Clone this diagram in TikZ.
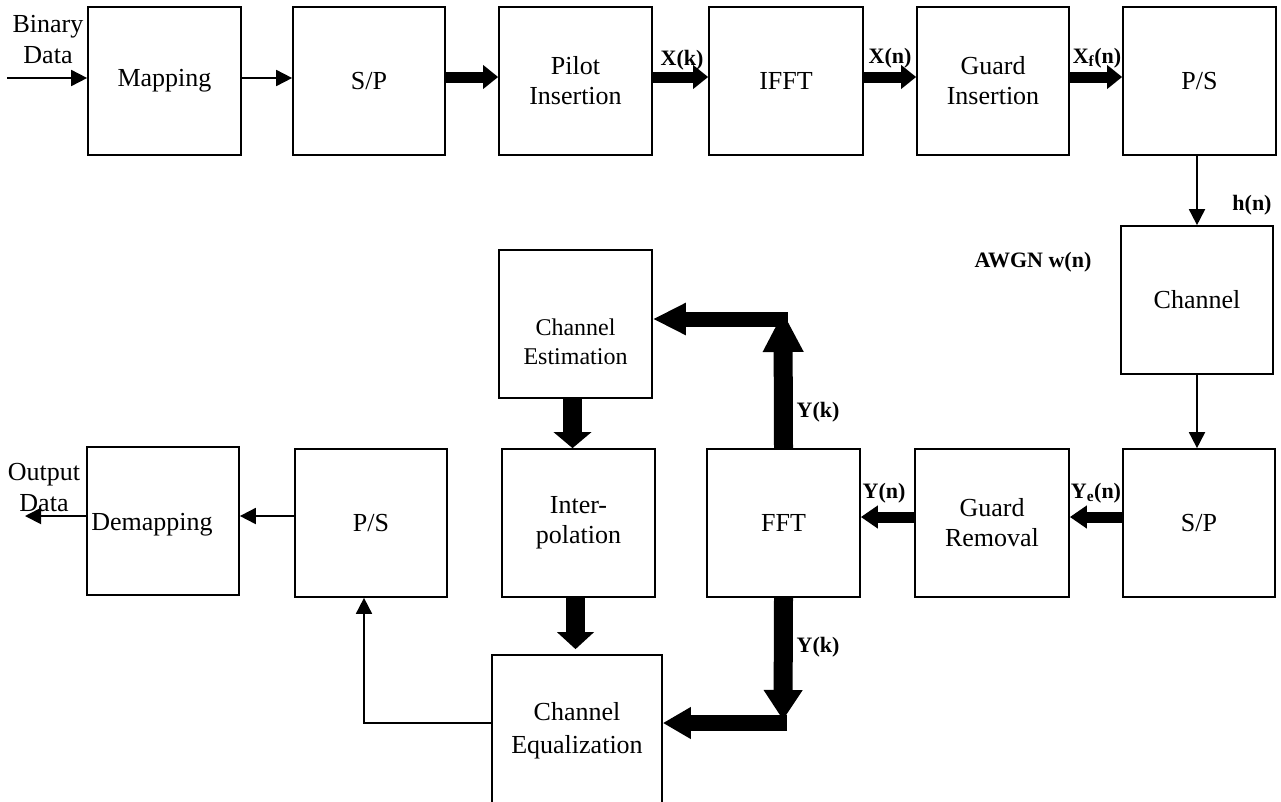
\documentclass[tikz,border=0pt]{standalone}
\usepackage{fontspec}
\setmainfont{Liberation Serif}
\usetikzlibrary{arrows.meta}
\tikzset{
  box/.style={draw, line width=1.7pt, inner sep=0pt, align=center, font=\fontsize{26}{30}\selectfont},
  lbl/.style={inner sep=0pt, font=\fontsize{22}{26}\selectfont\bfseries},
  txt/.style={inner sep=0pt, align=center, font=\fontsize{26}{31}\selectfont},
  thinarr/.style={draw, line width=1.8pt, -{Triangle[length=16pt,width=16pt]}},
  fatarr/.style={draw, line width=11pt, -{Triangle[length=15pt,width=23pt]}},
  fatarrb/.style={draw, line width=11pt, -{Triangle[length=17pt,width=22pt]}},
}
\begin{document}
\begin{tikzpicture}[x=1pt,y=-1pt]
\useasboundingbox (0,0) rectangle (1281,801);
\clip (0,0) rectangle (1281,801);
% top row
\node[box, minimum width=153pt, minimum height=148pt] (map) at (164.5,81) {Mapping};
\node[box, minimum width=152pt, minimum height=148pt] (sp1) at (369,81) {S/P};
\node[box, minimum width=153pt, minimum height=148pt] (pilot) at (575.5,81) {Pilot\\Insertion};
\node[box, minimum width=154pt, minimum height=148pt] (ifft) at (786,81) {IFFT};
\node[box, minimum width=152pt, minimum height=148pt] (gins) at (993,81) {Guard\\Insertion};
\node[box, minimum width=153pt, minimum height=148pt] (ps1) at (1199.5,81) {P/S};
% right column
\node[box, minimum width=152pt, minimum height=148pt] (chan) at (1197,300) {Channel};
\node[box, minimum width=152pt, minimum height=148pt] (sp2) at (1199,523) {S/P};
% bottom row
\node[box, minimum width=154pt, minimum height=148pt] (grem) at (992,523) {Guard\\Removal};
\node[box, minimum width=153pt, minimum height=148pt] (fft) at (783.5,523) {FFT};
\node[box, minimum width=153pt, minimum height=148pt] (interp) at (578.5,523) {Inter-\\polation};
\node[box, minimum width=153pt, minimum height=148pt] (chest) at (575.5,324) {};
\node[txt, font=\fontsize{24}{29}\selectfont] (chesttxt) at (575.5,342) {Channel\\Estimation};
\node[box, minimum width=152pt, minimum height=148pt] (ps2) at (371,523) {P/S};
\node[box, minimum width=152pt, minimum height=148pt] (demap) at (163,521) {};
\node[txt] (demaptxt) at (152,525) {Demapping};
\node[box, minimum width=170pt, minimum height=155pt] (eq) at (577,732.5) {};
\node[txt, font=\fontsize{26}{33}\selectfont] (eqtxt) at (577,731) {Channel\\Equalization};
% side texts
\node[txt] (bin) at (48,40) {Binary\\Data};
\node[txt] (out) at (44,488) {Output\\Data};
\coordinate (inA) at (7,78);
\coordinate (outA) at (25,516);
% labels
\node[lbl] (lxk) at (682,60) {X(k)};
\node[lbl] (lxn) at (890,58) {X(n)};
\node[lbl] (lxf) at (1097,58) {X\textsubscript{f}(n)};
\node[lbl] (lhn) at (1252,205) {h(n)};
\node[lbl] (lawgn) at (1033,262) {AWGN w(n)};
\node[lbl] (lyk1) at (818,412) {Y(k)};
\node[lbl] (lyk2) at (818,647) {Y(k)};
\node[lbl] (lyn) at (884,493) {Y(n)};
\node[lbl] (lye) at (1096,493) {Y\textsubscript{e}(n)};
% top row connectors
\draw[thinarr] (inA) -- (inA -| map.west);
\draw[thinarr] ([yshift=3pt]map.east) -- ([yshift=3pt]sp1.west);
\draw[fatarr] ([yshift=4pt]sp1.east) -- ([yshift=4pt]pilot.west);
\draw[fatarr] ([yshift=4pt]pilot.east) -- ([yshift=4pt]ifft.west);
\draw[fatarr] ([yshift=4pt]ifft.east) -- ([yshift=4pt]gins.west);
\draw[fatarr] ([yshift=4pt]gins.east) -- ([yshift=4pt]ps1.west);
% right column
\draw[thinarr] (ps1.south -| chan.north) -- (chan.north);
\draw[thinarr] (chan.south) -- (chan.south |- sp2.north);
% bottom row
\coordinate (r1) at (0,517);
\draw[fatarrb] (sp2.west |- r1) -- (grem.east |- r1);
\draw[fatarrb] (grem.west |- r1) -- (fft.east |- r1);
\coordinate (up) at (783,312);
\coordinate (h1) at (788,319);
\draw[draw, line width=19pt, -{Triangle[length=40pt,width=38pt]}] (fft.north) -- (up);
\draw[draw, line width=15pt, -{Triangle[length=33pt,width=30pt]}] (h1) -- (chest.east |- h1);
\draw[draw, line width=19pt, -{Triangle[length=16pt,width=37pt]}] ([xshift=-3pt]chest.south) -- ([xshift=-3pt]chest.south |- interp.north);
\draw[draw, line width=19pt, -{Triangle[length=17pt,width=36pt]}, shorten >=5pt] ([xshift=-3pt]interp.south) -- ([xshift=-3pt]interp.south |- eq.north);
\coordinate (dn) at (783,720);
\coordinate (h2) at (787,723);
\draw[draw, line width=19pt, -{Triangle[length=30pt,width=37pt]}] (fft.south) -- (dn);
\draw[draw, line width=16pt, -{Triangle[length=28pt,width=30pt]}] (h2) -- (eq.east |- h2);
\coordinate (fb) at (364,723);
\draw[thinarr] (eq.west |- fb) -- (fb) -- (fb |- ps2.south);
\draw[thinarr] ([yshift=7pt]ps2.west) -- ([yshift=5pt]demap.east);
\draw[thinarr] ([yshift=5pt]demap.west) -- (outA);
\end{tikzpicture}
\end{document}
